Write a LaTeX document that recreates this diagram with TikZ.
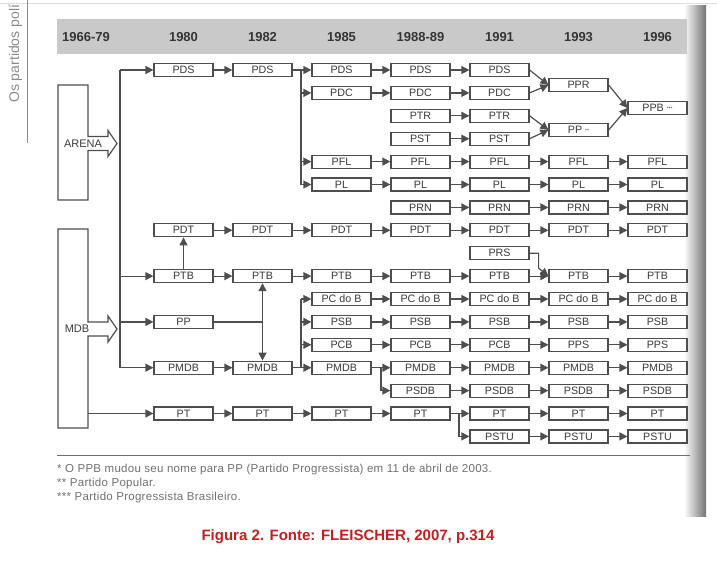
\documentclass[tikz,border=0pt]{standalone}
\usepackage{fontspec}
\setmainfont{Liberation Sans}
\usetikzlibrary{arrows.meta}
\definecolor{prtline}{HTML}{4E4E4E}
\definecolor{prttext}{HTML}{3A3A3A}
\definecolor{prthead}{HTML}{C9C9C9}
\definecolor{prtyear}{HTML}{353535}
\definecolor{prtnote}{HTML}{707070}
\definecolor{prtside}{HTML}{8A8A8A}
\definecolor{prtred}{HTML}{C81E1E}
% columns (box centres, px)
\newcommand{\prtcxa}{183.5}
\newcommand{\prtcxb}{262.5}
\newcommand{\prtcxc}{341.5}
\newcommand{\prtcxd}{420.5}
\newcommand{\prtcxe}{499.5}
\newcommand{\prtcxf}{578.5}
\newcommand{\prtcxg}{657.5}
% rows
\newcommand{\prtrya}{70}
\newcommand{\prtryb}{92.9}
\newcommand{\prtryc}{115.8}
\newcommand{\prtryd}{138.7}
\newcommand{\prtrye}{161.6}
\newcommand{\prtryf}{184.5}
\newcommand{\prtryg}{207.4}
\newcommand{\prtryh}{230.3}
\newcommand{\prtryi}{253.2}
\newcommand{\prtryj}{276.1}
\newcommand{\prtryk}{299}
\newcommand{\prtryl}{321.9}
\newcommand{\prtrym}{344.8}
\newcommand{\prtryn}{367.7}
\newcommand{\prtryo}{390.6}
\newcommand{\prtryp}{413.5}
\newcommand{\prtryq}{436.4}
\newcommand{\prtstar}[1]{\raisebox{1.5pt}{\fontsize{5}{5}\selectfont #1}}
% origin block with arrow: top, bottom, arrow middle
\newcommand{\prtblk}[3]{
  \draw[prtlin] (58,#1) -- (88,#1) -- (88,{#3-7}) -- (108,{#3-7})
    -- (108,{#3-13}) -- (117,#3) -- (108,{#3+13}) -- (108,{#3+7})
    -- (88,{#3+7}) -- (88,#2) -- (58,#2) -- cycle;}
\tikzset{
  prtbox/.style={draw=prtline, line width=1.2pt, fill=white,
    minimum width=59pt, minimum height=13pt, inner sep=0pt,
    text=prttext, font=\fontsize{10.7}{12}\selectfont},
  prtlin/.style={draw=prtline, line width=1.2pt},
  prtarr/.style={prtlin, -{Triangle[length=8pt,width=8pt]}},
  prtyr/.style={text=prtyear, font=\bfseries\fontsize{13}{15}\selectfont},
  prtnt/.style={anchor=base west, inner sep=0pt, text=prtnote,
    font=\fontsize{11.5}{13}\selectfont\addfontfeature{LetterSpace=2.5}}
}
\begin{document}
\begin{tikzpicture}[x=1pt,y=-1pt]
    \useasboundingbox (0,0) rectangle (717,562);
    \clip (0,0) rectangle (717,562);
    \draw[gray!25] (0,3) -- (717,3);
    \shade[left color=white, right color=black!55] (684,5) rectangle (706,516);

    \node (lateral) at (19,103) [anchor=base west, rotate=90, inner sep=0pt,
      text=prtside, font=\fontsize{14}{16}\selectfont] {Os partidos polí};
    \draw[prtside, line width=1pt] (27,0) -- (27,143);

    % years
    \fill[prthead] (57,19) rectangle (687,54);
    \node (yra) at (86,37) [prtyr] {1966-79};
    \node (yrb) at (\prtcxa,37) [prtyr] {1980};
    \node (yrc) at (\prtcxb,37) [prtyr] {1982};
    \node (yrd) at (\prtcxc,37) [prtyr] {1985};
    \node (yre) at (\prtcxd,37) [prtyr] {1988-89};
    \node (yrf) at (\prtcxe,37) [prtyr] {1991};
    \node (yrg) at (\prtcxf,37) [prtyr] {1993};
    \node (yrh) at (\prtcxg,37) [prtyr] {1996};

    % origins
    \prtblk{85}{200}{143.5}
    \prtblk{229}{428}{329}
    \node (arena) at (83,143.5) [text=prttext, font=\fontsize{11}{12}\selectfont] {ARENA};
    \node (mdb) at (77,329) [text=prttext, font=\fontsize{11}{12}\selectfont] {MDB};
    \coordinate (trnka) at (120,\prtrya);
    \coordinate (trnkb) at (120,\prtryn);
    \coordinate (mdbr) at (88,\prtryp);

    % 1980
    \node (pdsa) at (\prtcxa,\prtrya) [prtbox] {PDS};
    \node (pdta) at (\prtcxa,\prtryh) [prtbox] {PDT};
    \node (ptba) at (\prtcxa,\prtryj) [prtbox] {PTB};
    \node (ppa) at (\prtcxa,\prtryl) [prtbox] {PP};
    \node (pmdba) at (\prtcxa,\prtryn) [prtbox] {PMDB};
    \node (pta) at (\prtcxa,\prtryp) [prtbox] {PT};
    % 1982
    \node (pdsb) at (\prtcxb,\prtrya) [prtbox] {PDS};
    \node (pdtb) at (\prtcxb,\prtryh) [prtbox] {PDT};
    \node (ptbb) at (\prtcxb,\prtryj) [prtbox] {PTB};
    \node (pmdbb) at (\prtcxb,\prtryn) [prtbox] {PMDB};
    \node (ptb) at (\prtcxb,\prtryp) [prtbox] {PT};
    % 1985
    \node (pdsc) at (\prtcxc,\prtrya) [prtbox] {PDS};
    \node (pdcc) at (\prtcxc,\prtryb) [prtbox] {PDC};
    \node (pflc) at (\prtcxc,\prtrye) [prtbox] {PFL};
    \node (plc) at (\prtcxc,\prtryf) [prtbox] {PL};
    \node (pdtc) at (\prtcxc,\prtryh) [prtbox] {PDT};
    \node (ptbc) at (\prtcxc,\prtryj) [prtbox] {PTB};
    \node (pcdbc) at (\prtcxc,\prtryk) [prtbox] {PC do B};
    \node (psbc) at (\prtcxc,\prtryl) [prtbox] {PSB};
    \node (pcbc) at (\prtcxc,\prtrym) [prtbox] {PCB};
    \node (pmdbc) at (\prtcxc,\prtryn) [prtbox] {PMDB};
    \node (ptc) at (\prtcxc,\prtryp) [prtbox] {PT};
    % 1988-89
    \node (pdsd) at (\prtcxd,\prtrya) [prtbox] {PDS};
    \node (pdcd) at (\prtcxd,\prtryb) [prtbox] {PDC};
    \node (ptrd) at (\prtcxd,\prtryc) [prtbox] {PTR};
    \node (pstd) at (\prtcxd,\prtryd) [prtbox] {PST};
    \node (pfld) at (\prtcxd,\prtrye) [prtbox] {PFL};
    \node (pld) at (\prtcxd,\prtryf) [prtbox] {PL};
    \node (prnd) at (\prtcxd,\prtryg) [prtbox] {PRN};
    \node (pdtd) at (\prtcxd,\prtryh) [prtbox] {PDT};
    \node (ptbd) at (\prtcxd,\prtryj) [prtbox] {PTB};
    \node (pcdbd) at (\prtcxd,\prtryk) [prtbox] {PC do B};
    \node (psbd) at (\prtcxd,\prtryl) [prtbox] {PSB};
    \node (pcbd) at (\prtcxd,\prtrym) [prtbox] {PCB};
    \node (pmdbd) at (\prtcxd,\prtryn) [prtbox] {PMDB};
    \node (psdbd) at (\prtcxd,\prtryo) [prtbox] {PSDB};
    \node (ptd) at (\prtcxd,\prtryp) [prtbox] {PT};
    % 1991
    \node (pdse) at (\prtcxe,\prtrya) [prtbox] {PDS};
    \node (pdce) at (\prtcxe,\prtryb) [prtbox] {PDC};
    \node (ptre) at (\prtcxe,\prtryc) [prtbox] {PTR};
    \node (pste) at (\prtcxe,\prtryd) [prtbox] {PST};
    \node (pfle) at (\prtcxe,\prtrye) [prtbox] {PFL};
    \node (ple) at (\prtcxe,\prtryf) [prtbox] {PL};
    \node (prne) at (\prtcxe,\prtryg) [prtbox] {PRN};
    \node (pdte) at (\prtcxe,\prtryh) [prtbox] {PDT};
    \node (prse) at (\prtcxe,\prtryi) [prtbox] {PRS};
    \node (ptbe) at (\prtcxe,\prtryj) [prtbox] {PTB};
    \node (pcdbe) at (\prtcxe,\prtryk) [prtbox] {PC do B};
    \node (psbe) at (\prtcxe,\prtryl) [prtbox] {PSB};
    \node (pcbe) at (\prtcxe,\prtrym) [prtbox] {PCB};
    \node (pmdbe) at (\prtcxe,\prtryn) [prtbox] {PMDB};
    \node (psdbe) at (\prtcxe,\prtryo) [prtbox] {PSDB};
    \node (pte) at (\prtcxe,\prtryp) [prtbox] {PT};
    \node (pstue) at (\prtcxe,\prtryq) [prtbox] {PSTU};
    % 1993
    \node (pprf) at (\prtcxf,85) [prtbox] {PPR};
    \node (ppf) at (\prtcxf,130) [prtbox] {PP \prtstar{**}};
    \node (pflf) at (\prtcxf,\prtrye) [prtbox] {PFL};
    \node (plf) at (\prtcxf,\prtryf) [prtbox] {PL};
    \node (prnf) at (\prtcxf,\prtryg) [prtbox] {PRN};
    \node (pdtf) at (\prtcxf,\prtryh) [prtbox] {PDT};
    \node (ptbf) at (\prtcxf,\prtryj) [prtbox] {PTB};
    \node (pcdbf) at (\prtcxf,\prtryk) [prtbox] {PC do B};
    \node (psbf) at (\prtcxf,\prtryl) [prtbox] {PSB};
    \node (ppsf) at (\prtcxf,\prtrym) [prtbox] {PPS};
    \node (pmdbf) at (\prtcxf,\prtryn) [prtbox] {PMDB};
    \node (psdbf) at (\prtcxf,\prtryo) [prtbox] {PSDB};
    \node (ptf) at (\prtcxf,\prtryp) [prtbox] {PT};
    \node (pstuf) at (\prtcxf,\prtryq) [prtbox] {PSTU};
    % 1996
    \node (ppbg) at (\prtcxg,108) [prtbox] {PPB \prtstar{***}};
    \node (pflg) at (\prtcxg,\prtrye) [prtbox] {PFL};
    \node (plg) at (\prtcxg,\prtryf) [prtbox] {PL};
    \node (prng) at (\prtcxg,\prtryg) [prtbox] {PRN};
    \node (pdtg) at (\prtcxg,\prtryh) [prtbox] {PDT};
    \node (ptbg) at (\prtcxg,\prtryj) [prtbox] {PTB};
    \node (pcdbg) at (\prtcxg,\prtryk) [prtbox] {PC do B};
    \node (psbg) at (\prtcxg,\prtryl) [prtbox] {PSB};
    \node (ppsg) at (\prtcxg,\prtrym) [prtbox] {PPS};
    \node (pmdbg) at (\prtcxg,\prtryn) [prtbox] {PMDB};
    \node (psdbg) at (\prtcxg,\prtryo) [prtbox] {PSDB};
    \node (ptg) at (\prtcxg,\prtryp) [prtbox] {PT};
    \node (pstug) at (\prtcxg,\prtryq) [prtbox] {PSTU};

    % 1966-79 -> 1980
    \draw[prtlin] (trnka) -- (trnkb);
    \draw[prtarr] (trnka) -- (pdsa);
    \draw[prtarr] (ptba.west -| trnka) -- (ptba);
    \draw[prtarr] (ppa.west -| trnka) -- (ppa);
    \draw[prtarr] (trnkb) -- (pmdba);
    \draw[prtarr] (mdbr) -- (pta);
    \draw[prtarr] (ptba) -- (pdta);

    % 1980 -> 1982
    \draw[prtarr] (pdsa) -- (pdsb);
    \draw[prtarr] (pdta) -- (pdtb);
    \draw[prtarr] (ptba) -- (ptbb);
    \draw[prtarr] (pmdba) -- (pmdbb);
    \draw[prtarr] (pta) -- (ptb);
    \draw[prtlin] (ppa.east) -- (ppa.east -| ptbb.south);
    \draw[prtlin, {Triangle[length=8pt,width=8pt]}-{Triangle[length=8pt,width=8pt]}]
      (ptbb) -- (pmdbb);

    % 1982 -> 1985
    \coordinate (brna) at (301,\prtrya);
    \coordinate (brnb) at (301,\prtryn);
    \draw[prtlin] (pdsb.east) -- (brna) -- (brna |- plc.west);
    \draw[prtarr] (brna) -- (pdsc);
    \draw[prtarr] (pdcc.west -| brna) -- (pdcc);
    \draw[prtarr] (pflc.west -| brna) -- (pflc);
    \draw[prtarr] (plc.west -| brna) -- (plc);
    \draw[prtarr] (pdtb) -- (pdtc);
    \draw[prtarr] (ptbb) -- (ptbc);
    \draw[prtlin] (brnb) -- (brnb |- pcdbc.west);
    \draw[prtarr] (pcdbc.west -| brnb) -- (pcdbc);
    \draw[prtarr] (psbc.west -| brnb) -- (psbc);
    \draw[prtarr] (pcbc.west -| brnb) -- (pcbc);
    \draw[prtarr] (pmdbb) -- (pmdbc);
    \draw[prtarr] (ptb) -- (ptc);

    % 1985 -> 1988-89
    \draw[prtarr] (pdsc) -- (pdsd);
    \draw[prtarr] (pdcc) -- (pdcd);
    \draw[prtarr] (pflc) -- (pfld);
    \draw[prtarr] (plc) -- (pld);
    \draw[prtarr] (pdtc) -- (pdtd);
    \draw[prtarr] (ptbc) -- (ptbd);
    \draw[prtarr] (pcdbc) -- (pcdbd);
    \draw[prtarr] (psbc) -- (psbd);
    \draw[prtarr] (pcbc) -- (pcbd);
    \draw[prtarr] (pmdbc) -- (pmdbd);
    \coordinate (brnc) at (381,\prtryn);
    \draw[prtarr] (brnc) |- (psdbd);
    \draw[prtarr] (ptc) -- (ptd);

    % 1988-89 -> 1991
    \draw[prtarr] (pdsd) -- (pdse);
    \draw[prtarr] (pdcd) -- (pdce);
    \draw[prtarr] (ptrd) -- (ptre);
    \draw[prtarr] (pstd) -- (pste);
    \draw[prtarr] (pfld) -- (pfle);
    \draw[prtarr] (pld) -- (ple);
    \draw[prtarr] (prnd) -- (prne);
    \draw[prtarr] (pdtd) -- (pdte);
    \draw[prtarr] (ptbd) -- (ptbe);
    \draw[prtarr] (pcdbd) -- (pcdbe);
    \draw[prtarr] (psbd) -- (psbe);
    \draw[prtarr] (pcbd) -- (pcbe);
    \draw[prtarr] (pmdbd) -- (pmdbe);
    \draw[prtarr] (psdbd) -- (psdbe);
    \draw[prtarr] (ptd) -- (pte);
    \coordinate (brnd) at (459,\prtryp);
    \draw[prtarr] (brnd) |- (pstue);

    % 1991 -> 1993
    \draw[prtarr] (pdse.east) -- (pprf.west);
    \draw[prtarr] (pdce.east) -- (pprf.west);
    \draw[prtarr] (ptre.east) -- (ppf.west);
    \draw[prtarr] (pste.east) -- (ppf.west);
    \draw[prtarr] (pfle) -- (pflf);
    \draw[prtarr] (ple) -- (plf);
    \draw[prtarr] (prne) -- (prnf);
    \draw[prtarr] (pdte) -- (pdtf);
    \draw[prtarr] (prse.east) -- ++(9,0) -- ++(0,15) -- (ptbf.west);
    \draw[prtarr] (ptbe) -- (ptbf);
    \draw[prtarr] (pcdbe) -- (pcdbf);
    \draw[prtarr] (psbe) -- (psbf);
    \draw[prtarr] (pcbe) -- (ppsf);
    \draw[prtarr] (pmdbe) -- (pmdbf);
    \draw[prtarr] (psdbe) -- (psdbf);
    \draw[prtarr] (pte) -- (ptf);
    \draw[prtarr] (pstue) -- (pstuf);

    % 1993 -> 1996
    \draw[prtarr] (pprf.east) -- (ppbg.west);
    \draw[prtarr] (ppf.east) -- (ppbg.west);
    \draw[prtarr] (pflf) -- (pflg);
    \draw[prtarr] (plf) -- (plg);
    \draw[prtarr] (prnf) -- (prng);
    \draw[prtarr] (pdtf) -- (pdtg);
    \draw[prtarr] (ptbf) -- (ptbg);
    \draw[prtarr] (pcdbf) -- (pcdbg);
    \draw[prtarr] (psbf) -- (psbg);
    \draw[prtarr] (ppsf) -- (ppsg);
    \draw[prtarr] (pmdbf) -- (pmdbg);
    \draw[prtarr] (psdbf) -- (psdbg);
    \draw[prtarr] (ptf) -- (ptg);
    \draw[prtarr] (pstuf) -- (pstug);

    % notes
    \draw[prtnote, line width=1pt] (57,455) -- (690,455);
    \node (nota) at (57,472.5) [prtnt]
      {* O PPB mudou seu nome para PP (Partido Progressista) em 11 de abril de 2003.};
    \node (notb) at (57,486.5) [prtnt] {** Partido Popular.};
    \node (notc) at (57,500.5) [prtnt] {*** Partido Progressista Brasileiro.};
    \node (fonte) at (348,537) [text=prtred, font=\bfseries\fontsize{15}{18}\selectfont]
      {Figura 2. Fonte: FLEISCHER, 2007, p.314};
  \end{tikzpicture}
\end{document}
